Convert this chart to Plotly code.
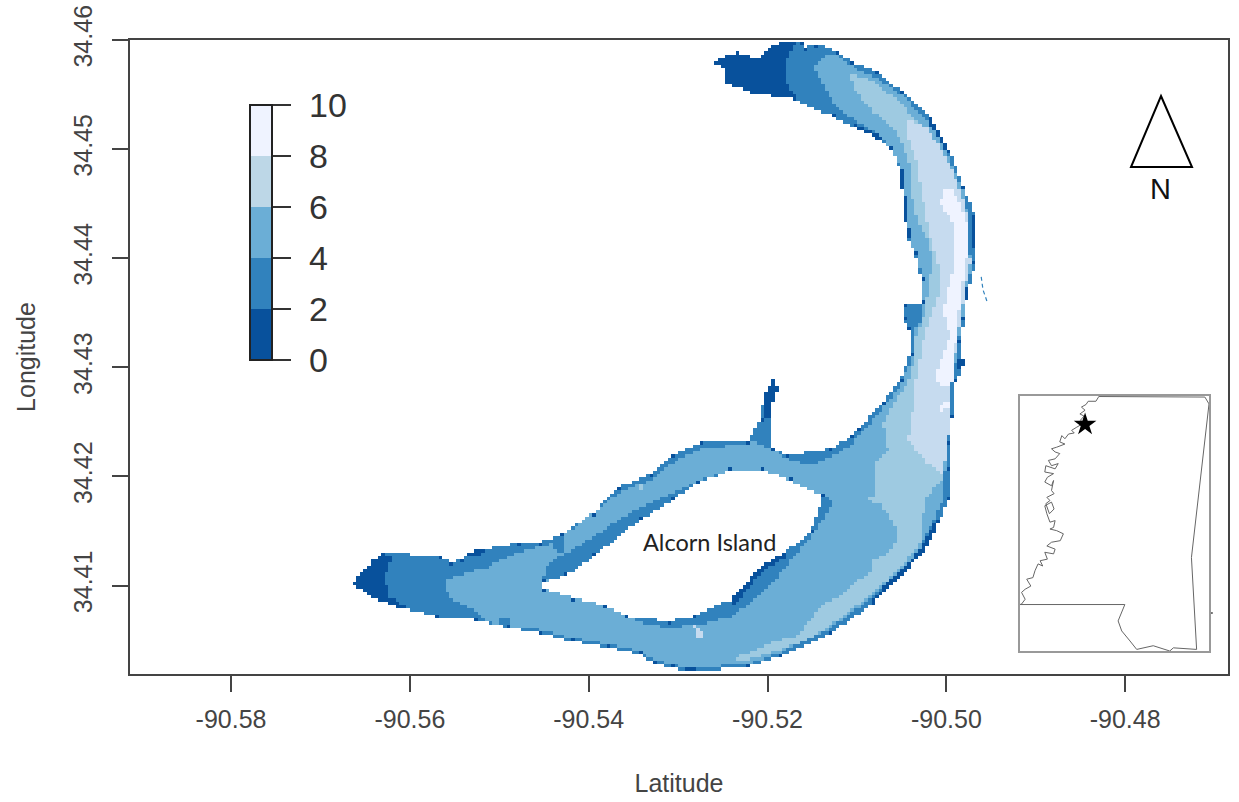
import numpy as np
import plotly.graph_objects as go

outline = [(-90.5263,34.4580),(-90.5250,34.4584),(-90.5233,34.4589),(-90.5212,34.4582),(-90.5197,34.4594),(-90.5186,34.4598),(-90.5161,34.4598),(-90.5158,34.4594),(-90.5145,34.4597),(-90.5122,34.4589),(-90.5104,34.4579),(-90.5077,34.4571),(-90.5048,34.4551),(-90.5018,34.4529),(-90.4996,34.4497),(-90.4981,34.4465),(-90.4968,34.4438),(-90.4968,34.4410),(-90.4967,34.4396),(-90.4976,34.4371),(-90.4981,34.4344),(-90.4985,34.4323),(-90.4981,34.4304),(-90.4990,34.4286),(-90.4994,34.4255),(-90.4998,34.4231),(-90.4996,34.4206),(-90.4998,34.4179),(-90.5009,34.4158),(-90.5026,34.4130),(-90.5048,34.4112),(-90.5082,34.4084),(-90.5130,34.4057),(-90.5186,34.4035),(-90.5219,34.4027),(-90.5289,34.4021),(-90.5306,34.4025),(-90.5328,34.4029),(-90.5343,34.4037),(-90.5379,34.4044),(-90.5417,34.4049),(-90.5454,34.4057),(-90.5491,34.4062),(-90.5529,34.4069),(-90.5570,34.4072),(-90.5614,34.4081),(-90.5645,34.4090),(-90.5664,34.4103),(-90.5641,34.4124),(-90.5630,34.4130),(-90.5566,34.4128),(-90.5555,34.4122),(-90.5541,34.4124),(-90.5536,34.4131),(-90.5480,34.4139),(-90.5454,34.4140),(-90.5432,34.4146),(-90.5395,34.4167),(-90.5365,34.4191),(-90.5331,34.4203),(-90.5306,34.4220),(-90.5275,34.4231),(-90.5222,34.4233),(-90.5208,34.4252),(-90.5205,34.4272),(-90.5192,34.4293),(-90.5189,34.4280),(-90.5195,34.4268),(-90.5194,34.4225),(-90.5178,34.4220),(-90.5130,34.4226),(-90.5108,34.4236),(-90.5100,34.4243),(-90.5071,34.4268),(-90.5052,34.4289),(-90.5041,34.4313),(-90.5041,34.4334),(-90.5048,34.4344),(-90.5049,34.4360),(-90.5029,34.4360),(-90.5029,34.4380),(-90.5035,34.4405),(-90.5044,34.4420),(-90.5049,34.4456),(-90.5052,34.4481),(-90.5063,34.4502),(-90.5089,34.4515),(-90.5104,34.4520),(-90.5127,34.4530),(-90.5175,34.4547),(-90.5216,34.4551),(-90.5250,34.4561),(-90.5250,34.4575)]
island = [(-90.5451,34.4103),(-90.5424,34.4110),(-90.5395,34.4127),(-90.5343,34.4160),(-90.5306,34.4179),(-90.5279,34.4194),(-90.5242,34.4206),(-90.5205,34.4206),(-90.5175,34.4197),(-90.5138,34.4182),(-90.5152,34.4149),(-90.5183,34.4130),(-90.5208,34.4117),(-90.5242,34.4087),(-90.5283,34.4072),(-90.5312,34.4068),(-90.5357,34.4072),(-90.5379,34.4081),(-90.5417,34.4089),(-90.5451,34.4098)]
depth_4_6 = [(-90.5147,34.4575),(-90.5138,34.4585),(-90.5122,34.4586),(-90.5104,34.4575),(-90.5074,34.4563),(-90.5048,34.4548),(-90.5018,34.4524),(-90.4998,34.4493),(-90.4982,34.4463),(-90.4976,34.4438),(-90.4976,34.4410),(-90.4971,34.4396),(-90.4979,34.4371),(-90.4982,34.4344),(-90.4988,34.4323),(-90.4990,34.4304),(-90.4994,34.4286),(-90.4996,34.4255),(-90.5000,34.4231),(-90.5004,34.4179),(-90.5015,34.4160),(-90.5032,34.4131),(-90.5063,34.4103),(-90.5093,34.4084),(-90.5133,34.4060),(-90.5186,34.4039),(-90.5219,34.4029),(-90.5289,34.4025),(-90.5328,34.4032),(-90.5343,34.4040),(-90.5379,34.4047),(-90.5417,34.4052),(-90.5454,34.4060),(-90.5485,34.4062),(-90.5514,34.4067),(-90.5522,34.4075),(-90.5552,34.4087),(-90.5561,34.4099),(-90.5558,34.4107),(-90.5514,34.4117),(-90.5480,34.4130),(-90.5441,34.4139),(-90.5430,34.4145),(-90.5402,34.4163),(-90.5365,34.4186),(-90.5331,34.4197),(-90.5306,34.4213),(-90.5275,34.4225),(-90.5227,34.4230),(-90.5216,34.4232),(-90.5194,34.4225),(-90.5183,34.4217),(-90.5152,34.4211),(-90.5130,34.4218),(-90.5108,34.4229),(-90.5095,34.4240),(-90.5068,34.4266),(-90.5052,34.4284),(-90.5038,34.4310),(-90.5037,34.4332),(-90.5027,34.4346),(-90.5026,34.4374),(-90.5032,34.4399),(-90.5041,34.4414),(-90.5048,34.4442),(-90.5048,34.4478),(-90.5060,34.4497),(-90.5077,34.4515),(-90.5104,34.4527),(-90.5127,34.4542),(-90.5145,34.4570)]
depth_6_7 = [(-90.5108,34.4570),(-90.5085,34.4563),(-90.5055,34.4545),(-90.5026,34.4520),(-90.5004,34.4493),(-90.4988,34.4465),(-90.4978,34.4438),(-90.4978,34.4410),(-90.4976,34.4396),(-90.4981,34.4371),(-90.4985,34.4344),(-90.4989,34.4323),(-90.4992,34.4304),(-90.4995,34.4286),(-90.4997,34.4255),(-90.5001,34.4231),(-90.5004,34.4200),(-90.5022,34.4182),(-90.5026,34.4167),(-90.5027,34.4142),(-90.5041,34.4127),(-90.5066,34.4105),(-90.5093,34.4087),(-90.5130,34.4064),(-90.5152,34.4053),(-90.5180,34.4043),(-90.5205,34.4037),(-90.5234,34.4030),(-90.5238,34.4034),(-90.5205,34.4044),(-90.5186,34.4051),(-90.5167,34.4053),(-90.5156,34.4066),(-90.5138,34.4084),(-90.5119,34.4090),(-90.5100,34.4105),(-90.5085,34.4112),(-90.5082,34.4124),(-90.5066,34.4130),(-90.5055,34.4142),(-90.5057,34.4154),(-90.5071,34.4172),(-90.5082,34.4188),(-90.5082,34.4213),(-90.5066,34.4225),(-90.5071,34.4249),(-90.5057,34.4270),(-90.5043,34.4286),(-90.5037,34.4304),(-90.5035,34.4325),(-90.5026,34.4346),(-90.5022,34.4365),(-90.5016,34.4396),(-90.5020,34.4414),(-90.5037,34.4444),(-90.5041,34.4487),(-90.5055,34.4515),(-90.5085,34.4536),(-90.5104,34.4557)]
depth_7_8 = [(-90.5046,34.4529),(-90.5022,34.4520),(-90.4999,34.4490),(-90.4985,34.4463),(-90.4976,34.4435),(-90.4977,34.4410),(-90.4973,34.4399),(-90.4979,34.4374),(-90.4985,34.4346),(-90.4988,34.4323),(-90.4992,34.4304),(-90.4994,34.4286),(-90.4996,34.4255),(-90.4999,34.4231),(-90.5004,34.4206),(-90.5007,34.4203),(-90.5022,34.4213),(-90.5043,34.4234),(-90.5038,34.4261),(-90.5033,34.4295),(-90.5027,34.4323),(-90.5022,34.4337),(-90.5010,34.4365),(-90.5010,34.4396),(-90.5018,34.4417),(-90.5029,34.4465),(-90.5033,34.4487),(-90.5044,34.4515)]
depth_8_10 = [(-90.5004,34.4465),(-90.4992,34.4463),(-90.4976,34.4431),(-90.4976,34.4408),(-90.4981,34.4387),(-90.4987,34.4346),(-90.4990,34.4323),(-90.4994,34.4307),(-90.4992,34.4286),(-90.5004,34.4282),(-90.5013,34.4291),(-90.5007,34.4307),(-90.4996,34.4328),(-90.5004,34.4353),(-90.4994,34.4387),(-90.4990,34.4426),(-90.4998,34.4440),(-90.5007,34.4449)]
band_nw_island = [(-90.5451,34.4107),(-90.5445,34.4121),(-90.5430,34.4128),(-90.5387,34.4149),(-90.5354,34.4167),(-90.5331,34.4176),(-90.5290,34.4191),(-90.5256,34.4203),(-90.5253,34.4179),(-90.5387,34.4105)]
band_se_island = [(-90.5141,34.4185),(-90.5127,34.4177),(-90.5132,34.4168),(-90.5149,34.4149),(-90.5177,34.4121),(-90.5192,34.4105),(-90.5219,34.4084),(-90.5242,34.4072),(-90.5268,34.4066),(-90.5306,34.4062),(-90.5335,34.4064),(-90.5357,34.4072),(-90.5275,34.4096),(-90.5186,34.4151)]
band_channel = [(-90.5441,34.4145),(-90.5430,34.4147),(-90.5430,34.4130),(-90.5440,34.4133)]
band_south_spot = [(-90.5500,34.4071),(-90.5488,34.4071),(-90.5488,34.4061),(-90.5500,34.4061)]
shallow_north = [(-90.5263,34.4580),(-90.5250,34.4584),(-90.5233,34.4589),(-90.5212,34.4582),(-90.5197,34.4594),(-90.5186,34.4598),(-90.5169,34.4598),(-90.5180,34.4579),(-90.5180,34.4563),(-90.5167,34.4545),(-90.5175,34.4547),(-90.5216,34.4551),(-90.5250,34.4561),(-90.5250,34.4575)]
shallow_west = [(-90.5664,34.4103),(-90.5641,34.4124),(-90.5631,34.4128),(-90.5620,34.4128),(-90.5628,34.4108),(-90.5622,34.4089),(-90.5603,34.4081),(-90.5614,34.4081),(-90.5645,34.4090)]
shallow_neck = [(-90.5194,34.4293),(-90.5187,34.4280),(-90.5193,34.4268),(-90.5196,34.4254),(-90.5206,34.4252),(-90.5205,34.4272)]
shallow_shore_a = [(-90.4973,34.4438),(-90.4967,34.4438),(-90.4967,34.4410),(-90.4973,34.4410)]
shallow_shore_b = [(-90.4981,34.4371),(-90.4975,34.4371),(-90.4978,34.4345),(-90.4982,34.4345)]
shallow_shore_c = [(-90.4985,34.4337),(-90.4980,34.4337),(-90.4981,34.4323),(-90.4986,34.4323)]
shallow_shore_d = [(-90.4990,34.4309),(-90.4980,34.4309),(-90.4980,34.4298),(-90.4990,34.4298)]
shallow_shore_e = [(-90.5082,34.4084),(-90.5048,34.4112),(-90.5026,34.4130),(-90.5009,34.4158),(-90.5013,34.4160),(-90.5029,34.4133),(-90.5052,34.4115),(-90.5084,34.4087)]
shallow_shore_f = [(-90.5242,34.4087),(-90.5208,34.4117),(-90.5183,34.4130),(-90.5179,34.4127),(-90.5205,34.4114),(-90.5238,34.4082)]
shallow_shore_g = [(-90.5052,34.4481),(-90.5049,34.4456),(-90.5044,34.4420),(-90.5041,34.4420),(-90.5046,34.4456),(-90.5048,34.4481)]
shallow_shore_h = [(-90.5294,34.4025),(-90.5281,34.4025),(-90.5281,34.4020),(-90.5294,34.4020)]
shallow_shore_i = [(-90.5535,34.4132),(-90.5516,34.4134),(-90.5524,34.4126),(-90.5533,34.4127)]
shallow_shore_j = [(-90.5104,34.4520),(-90.5089,34.4515),(-90.5074,34.4508),(-90.5074,34.4512),(-90.5091,34.4519),(-90.5104,34.4524)]
shallow_shore_k = [(-90.5018,34.4529),(-90.4996,34.4497),(-90.4999,34.4497),(-90.5022,34.4527)]
spot_light_a = [(-90.5087,34.4181),(-90.5074,34.4182),(-90.5079,34.4174),(-90.5083,34.4176)]
spot_light_b = [(-90.5346,34.4193),(-90.5340,34.4193),(-90.5340,34.4187),(-90.5346,34.4187)]
spot_light_c = [(-90.5283,34.4064),(-90.5275,34.4062),(-90.5272,34.4054),(-90.5279,34.4052)]
pale_patch = [(-90.5010,34.4263),(-90.4998,34.4270),(-90.4995,34.4265),(-90.5004,34.4260)]
stream = [(-90.4961,34.4383),(-90.4959,34.4371),(-90.4956,34.4364),(-90.4954,34.4359)]
stray_point = [(-90.4703,34.4075)]

# Inset: state outline in degrees, with the star at the site
state_river = [(-90.18,35.03),(-90.23,34.95),(-90.38,34.95),(-90.42,34.89),(-90.51,34.84),(-90.44,34.78),(-90.54,34.71),(-90.46,34.67),(-90.53,34.59),(-90.46,34.54),(-90.60,34.46),(-90.70,34.40),(-90.65,34.35),(-90.76,34.33),(-90.83,34.24),(-90.89,34.30),(-90.93,34.18),(-90.83,34.14),(-90.99,34.08),(-91.09,34.05),(-91.02,33.99),(-90.93,33.96),(-91.02,33.86),(-91.15,33.83),(-91.09,33.73),(-90.96,33.77),(-91.02,33.67),(-91.20,33.73),(-91.22,33.61),(-91.05,33.58),(-91.17,33.51),(-91.22,33.42),(-91.09,33.35),(-91.05,33.45),(-91.09,33.26),(-91.04,33.20),(-91.18,33.13),(-91.12,33.07),(-91.20,33.01),(-91.13,32.82),(-91.04,32.91),(-91.09,33.04),(-91.22,32.97),(-91.18,32.82),(-91.12,32.66),(-91.02,32.69),(-91.05,32.56),(-91.12,32.53),(-90.99,32.50),(-90.86,32.44),(-90.92,32.31),(-91.09,32.28),(-91.18,32.21),(-91.02,32.15),(-91.05,32.06),(-91.22,32.09),(-91.17,31.96),(-91.31,31.93),(-91.26,31.83),(-91.35,31.87),(-91.41,31.74),(-91.45,31.61),(-91.57,31.58),(-91.49,31.45),(-91.60,31.39),(-91.67,31.33),(-91.60,31.20),(-91.67,31.11),(-91.70,31.10)]
state_rest = [(-89.67,31.10),(-89.80,30.79),(-89.73,30.60),(-89.57,30.41),(-89.44,30.25),(-89.12,30.32),(-88.80,30.22),(-88.73,30.28),(-88.28,30.25),(-88.38,31.99),(-88.04,34.90),(-88.12,35.03),(-90.18,35.04)]
site = (-90.44, 34.51)

xticks = [-90.58, -90.56, -90.54, -90.52, -90.50, -90.48]
yticks = [34.41, 34.42, 34.43, 34.44, 34.45, 34.46]
cbar_ticks = [0, 2, 4, 6, 8, 10]
map_colors = ["#08519C", "#3182BD", "#6BAED6", "#9ECAE1", "#C6DBEF", "#EFF3FF"]
legend_colors = ["#08519C", "#3182BD", "#6BAED6", "#BDD7E7", "#EFF3FF"]

W, H = 1239, 802
L, R, T, B = 130, 1228, 40, 674
px = lambda v: (v - L) / (R - L)
py = lambda v: (B - v) / (B - T)


def inside(poly, X, Y):
    p = np.array(poly)
    res = np.zeros(X.shape, bool)
    for i in range(len(p)):
        x1, y1 = p[i]
        x2, y2 = p[i - 1]
        if y1 == y2:
            continue
        res ^= ((y1 > Y) != (y2 > Y)) & (X < (x2 - x1) * (Y - y1) / (y2 - y1) + x1)
    return res


def steps(colors):
    n = len(colors)
    out = []
    for i, c in enumerate(colors):
        out += [[i / n, c], [(i + 1) / n, c]]
    return out


lon_cells = np.arange(-90.5670, -90.4960, 0.0004)
lat_cells = np.arange(34.4015, 34.4600, 0.0003)
X, Y = np.meshgrid(lon_cells, lat_cells)
Z = np.full(X.shape, np.nan)
layers = [
    (2, outline), (1, shallow_north), (1, shallow_west), (1, shallow_neck),
    (3, depth_4_6), (2, band_nw_island), (2, band_se_island), (2, band_channel), (2, band_south_spot),
    (4, depth_6_7), (4, spot_light_a), (4, spot_light_b), (5, spot_light_c),
    (5, depth_7_8), (6, depth_8_10), (6, pale_patch),
    (1, shallow_shore_a), (1, shallow_shore_b), (1, shallow_shore_c), (1, shallow_shore_d),
    (1, shallow_shore_e), (1, shallow_shore_f), (1, shallow_shore_g), (1, shallow_shore_h),
    (1, shallow_shore_i), (1, shallow_shore_j), (1, shallow_shore_k),
]
mask = inside(outline, X, Y)
for cls, poly in layers:
    Z[inside(poly, X, Y) & mask] = cls
land = inside(island, X, Y)
Z[land] = np.nan

# Dark shore cells: the raster turns shallow at the read shoreline vertices
water = mask & ~land
wy, wx = np.nonzero(water)
for ring in (outline, island):
    for lon, lat in ring:
        d = ((X[wy, wx] - lon) / 0.0004) ** 2 + ((Y[wy, wx] - lat) / 0.0003) ** 2
        k = d.argmin()
        Z[wy[k], wx[k]] = 1

fig = go.Figure()
fig.add_trace(go.Heatmap(x=lon_cells, y=lat_cells, z=Z, zmin=0.5, zmax=6.5,
                         colorscale=steps(map_colors), showscale=False, hoverongaps=False))
# Legend bar: five-class key as printed beside the map; its labels sit further out than the bar allows
fig.add_trace(go.Heatmap(x=[-91.0, -90.9], y=[34.0, 34.1], z=[[1, 3], [5, 9]], zmin=0, zmax=10,
                         colorscale=steps(legend_colors),
                         colorbar=dict(x=px(250), xanchor="left", xref="paper", xpad=0, ypad=0,
                                       y=py(360), yanchor="bottom", yref="paper",
                                       len=255 / (B - T), lenmode="fraction", thickness=22, thicknessmode="pixels",
                                       outlinecolor="#222", outlinewidth=2, borderwidth=0,
                                       tickvals=cbar_ticks, ticktext=[""] * len(cbar_ticks),
                                       ticks="outside", ticklen=18, tickwidth=2, tickcolor="#333")))
fig.add_trace(go.Scatter(x=[p[0] for p in stream], y=[p[1] for p in stream], mode="lines",
                         line=dict(color="#3182BD", width=1.2, dash="4px,3px"), showlegend=False, hoverinfo="skip"))
fig.add_trace(go.Scatter(x=[p[0] for p in stray_point], y=[p[1] for p in stray_point], mode="markers",
                         marker=dict(color="#555", size=2), showlegend=False, hoverinfo="skip"))
state = state_river + state_rest
fig.add_trace(go.Scatter(x=[p[0] for p in state], y=[p[1] for p in state], mode="lines", xaxis="x2", yaxis="y2",
                         line=dict(color="#666", width=1), showlegend=False, hoverinfo="skip"))
fig.add_trace(go.Scatter(x=[site[0]], y=[site[1]], mode="markers", xaxis="x2", yaxis="y2",
                         marker=dict(symbol="star", color="black", size=17), showlegend=False, hoverinfo="skip"))

axis_font = dict(family="Liberation Sans", size=25, color="#444")
title_font = dict(family="Liberation Sans", size=25, color="#444")
notes = [
    dict(x=px(1160.5), y=py(189), xref="paper", yref="paper", text="N", showarrow=False,
         xanchor="center", yanchor="middle", font=dict(family="Liberation Sans", size=29, color="#111")),
    dict(x=-90.5265, y=34.4140, text="Alcorn Island", showarrow=False,
         font=dict(family="Lato", size=23.5, color="#222")),
]
for v in cbar_ticks:
    notes.append(dict(x=px(307), y=py(360 - v * 25.5), xref="paper", yref="paper", text=str(v), showarrow=False,
                      xanchor="left", yanchor="middle",
                      font=dict(family="Liberation Sans", size=34, color="#333")))

fig.update_layout(
    width=W, height=H, autosize=False, margin=dict(l=L, r=W - R, t=T, b=H - B, autoexpand=False),
    paper_bgcolor="white", plot_bgcolor="white", showlegend=False,
    xaxis=dict(range=[-90.5913, -90.4685], domain=[0, 1], tickvals=xticks, ticktext=[f"{v:.2f}" for v in xticks],
               ticks="outside", ticklen=16, tickwidth=1.5, tickcolor="#444", showgrid=False, zeroline=False,
               ticklabelstandoff=6, automargin=False,
               showline=True, mirror=True, linecolor="#444", linewidth=2, tickfont=axis_font,
               title=dict(text="Latitude", font=title_font, standoff=42)),
    yaxis=dict(range=[34.4019, 34.46], domain=[0, 1], tickvals=yticks, ticktext=[f"{v:.2f}" for v in yticks],
               tickangle=-90, ticks="outside", ticklen=16, tickwidth=1.5, tickcolor="#444", showgrid=False, zeroline=False,
               ticklabelstandoff=10, automargin=False,
               showline=True, mirror=True, linecolor="#444", linewidth=2, tickfont=axis_font,
               title=dict(text="Longitude", font=title_font, standoff=26)),
    xaxis2=dict(domain=[px(1020), px(1209)], range=[-91.70, -88.04], anchor="y2", showticklabels=False, ticks="",
                showgrid=False, zeroline=False, showline=True, mirror=True, linecolor="#999", linewidth=1.5),
    yaxis2=dict(domain=[py(651), py(396)], range=[30.22, 35.05], anchor="x2", showticklabels=False, ticks="",
                showgrid=False, zeroline=False, showline=True, mirror=True, linecolor="#999", linewidth=1.5),
    shapes=[dict(type="path", xref="paper", yref="paper",
                 path=f"M {px(1161)} {py(96)} L {px(1192)} {py(167)} L {px(1131)} {py(167)} Z",
                 line=dict(color="black", width=2), fillcolor="rgba(0,0,0,0)")],
    annotations=notes,
)
fig.write_html("out.html", post_script="document.body.style.margin='0';", config={"displayModeBar": False})
